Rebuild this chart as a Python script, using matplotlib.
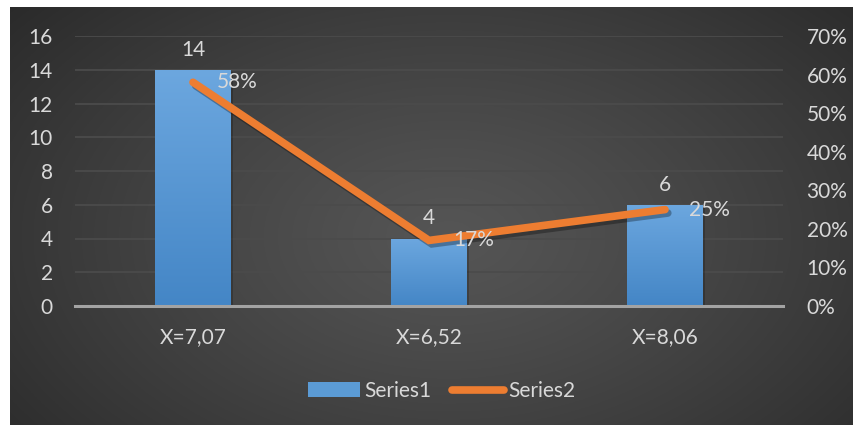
import numpy as np
import matplotlib
matplotlib.use("Agg")
import matplotlib.pyplot as plt
import matplotlib.patheffects as pe
from matplotlib.lines import Line2D
from matplotlib.patches import Patch

plt.rcParams['font.family'] = ['Lato', 'DejaVu Sans']

# chart data
categories = ["X=7,07", "X=6,52", "X=8,06"]
series1 = [14, 4, 6]
series2 = [0.58, 0.17, 0.25]
left_ticks = [0, 2, 4, 6, 8, 10, 12, 14, 16]
right_ticks = [0, 0.1, 0.2, 0.3, 0.4, 0.5, 0.6, 0.7]

TXT = "#d9d9d9"
FS = 15
BLUE_TOP = np.array([0x6c, 0xa7, 0xdf]) / 255
BLUE_BOT = np.array([0x44, 0x86, 0xc6]) / 255
ORANGE = "#ed7d31"

W, H = 854, 425
fig = plt.figure(figsize=(W / 100, H / 100), dpi=100, facecolor="white")

# dark radial backdrop
bg = fig.add_axes([10 / W, 0, 844 / W, 418 / H])
bg.set_axis_off()
yy, xx = np.mgrid[0:1:300j, 0:1:600j]
r = np.sqrt(((xx - 0.52) / 0.75) ** 2 + ((yy - 0.45) / 0.95) ** 2)
r = np.clip(r, 0, 1)
c_in, c_out = 0x55 / 255, 0x25 / 255
shade = c_in + (c_out - c_in) * r ** 1.2
bg.imshow(np.dstack([shade] * 3), aspect="auto", extent=[0, 1, 0, 1], origin="lower")
bg.set_xlim(0, 1)
bg.set_ylim(0, 1)

ax = fig.add_axes([75 / W, (H - 306) / H, 708 / W, 270 / H])
ax.set_facecolor("none")
x = np.arange(len(categories))
bw = 0.322

bars = ax.bar(x, series1, width=bw, color="none", zorder=3,
              path_effects=[pe.SimplePatchShadow(offset=(1.5, -1.5), shadow_rgbFace="black", alpha=0.2)])
grad = np.linspace(0, 1, 100)[:, None, None]
grad_img = BLUE_BOT + (BLUE_TOP - BLUE_BOT) * grad
for b in bars:
    bx, by = b.get_x(), b.get_y()
    im = ax.imshow(grad_img, extent=[bx, bx + b.get_width(), by, by + b.get_height()],
                   origin="lower", aspect="auto", zorder=3)
    im.set_clip_path(b)

for xi, v in zip(x, series1):
    ax.annotate(str(v), (xi, v), xytext=(0, 20), textcoords="offset pixels",
                ha="center", va="center", color=TXT, fontsize=FS)

ax.set_xlim(-0.5, len(categories) - 0.5)
ax.set_ylim(0, 16)
ax.set_yticks(left_ticks)
ax.set_xticks(x)
ax.set_xticklabels(categories)
ax.grid(axis="y", color="#4b4b4b", linewidth=1.3, zorder=0)
ax.set_axisbelow(True)
for s in ["top", "right", "left"]:
    ax.spines[s].set_visible(False)
ax.spines["bottom"].set_color("#a3a3a3")
ax.spines["bottom"].set_linewidth(2.2)
ax.spines["bottom"].set_zorder(4)
ax.tick_params(axis="y", length=0, pad=16, colors=TXT, labelsize=FS)
ax.tick_params(axis="x", length=0, pad=15, colors=TXT, labelsize=FS)

ax2 = ax.twinx()
ax2.set_ylim(0, 0.7)
ax2.set_yticks(right_ticks)
ax2.set_yticklabels([f"{int(round(t * 100))}%" for t in right_ticks])
ax2.tick_params(axis="y", length=0, pad=17, colors=TXT, labelsize=FS)
for s in ax2.spines.values():
    s.set_visible(False)
ax2.plot(x, series2, color=ORANGE, linewidth=5.5, solid_capstyle="round",
         solid_joinstyle="miter", zorder=5,
         path_effects=[pe.SimpleLineShadow(offset=(2, -2.5), shadow_color="black", alpha=0.3),
                       pe.Normal()])
for xi, v in zip(x, series2):
    ax2.annotate(f"{int(round(v * 100))}%", (xi, v), xytext=(24, 0), textcoords="offset pixels",
                 ha="left", va="center", color=TXT, fontsize=FS, zorder=6)

handles = [Patch(facecolor="#5b9bd5", edgecolor="none"),
           Line2D([0], [0], color=ORANGE, linewidth=5.5, solid_capstyle="round")]
fig.legend(handles, ["Series1", "Series2"], loc="center", bbox_to_anchor=(442 / W, (H - 391) / H),
           ncol=2, frameon=False, fontsize=FS, labelcolor=TXT, handlelength=2.5,
           handletextpad=0.2, columnspacing=1.0)

fig.savefig("out.png", dpi=100, facecolor="white")
